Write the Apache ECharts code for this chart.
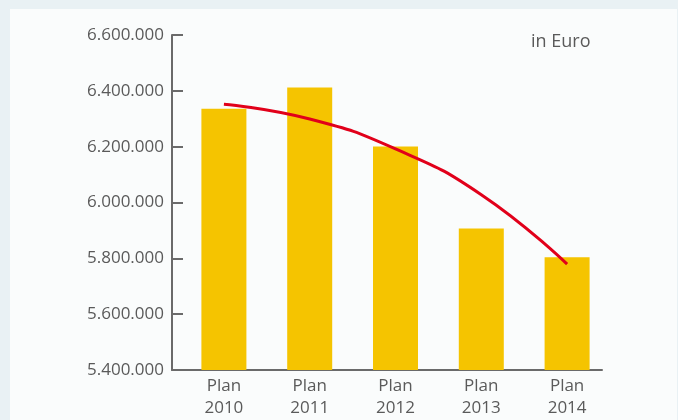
<!DOCTYPE html>
<html>
<head>
<meta charset="utf-8">
<script src="https://cdn.jsdelivr.net/npm/echarts@6/dist/echarts.min.js"></script>
<style>
  html, body { margin: 0; padding: 0; width: 678px; height: 420px; background: #e9f1f4; overflow: hidden; }
  #chart { position: absolute; left: 10px; top: 9px; width: 667px; height: 411px; background: #fafcfc; }
</style>
</head>
<body>
<div id="chart"></div>
<script>
// Planned budget per year, in Euro
const categories = ['Plan\n2010', 'Plan\n2011', 'Plan\n2012', 'Plan\n2013', 'Plan\n2014'];
const planValues = [6336000, 6412000, 6201000, 5907000, 5804000];
// Trend curve through the plan years
const trendValues = [6352000, 6299000, 6192000, 6028000, 5779000];
const yTicks = { min: 5400000, max: 6600000, step: 200000 };

const textColor = '#5a5a5a';
const axisColor = '#6a6a6a';
const fontFamily = '"Open Sans", "Noto Sans", sans-serif';

function formatThousands(v) {
  return String(v).replace(/\B(?=(\d{3})+(?!\d))/g, '.');
}

const chart = echarts.init(document.getElementById('chart'), null, { renderer: 'canvas' });
chart.setOption({
  animation: false,
  backgroundColor: '#fafcfc',
  // grid 0 carries the visible axis frame, grid 1 the bars and trend curve
  grid: [
    { left: 162, top: 26, width: 430, height: 335 },
    { left: 171, top: 26, width: 429, height: 335 }
  ],
  xAxis: [{
    gridIndex: 0,
    type: 'category',
    data: categories,
    axisLine: { show: true, lineStyle: { color: axisColor, width: 2 } },
    axisTick: { show: false },
    axisLabel: { show: false }
  }, {
    gridIndex: 1,
    type: 'category',
    data: categories,
    axisLine: { show: false },
    axisTick: { show: false },
    axisLabel: {
      color: textColor, fontFamily: fontFamily, fontSize: 17,
      lineHeight: 22, margin: 5, interval: 0
    }
  }],
  yAxis: [{
    gridIndex: 0,
    type: 'value',
    min: yTicks.min, max: yTicks.max, interval: yTicks.step,
    splitLine: { show: false },
    axisLine: { show: true, lineStyle: { color: axisColor, width: 2 } },
    axisTick: { show: true, inside: true, length: 11, lineStyle: { color: axisColor, width: 2 } },
    axisLabel: {
      color: textColor, fontFamily: fontFamily, fontSize: 17, margin: 8,
      formatter: formatThousands
    }
  }, {
    gridIndex: 1,
    type: 'value',
    min: yTicks.min, max: yTicks.max, interval: yTicks.step,
    show: false
  }],
  graphic: [{
    type: 'text',
    left: 521, top: 24,
    style: { text: 'in Euro', fill: textColor, font: '18px ' + fontFamily }
  }],
  series: [{
    type: 'bar',
    xAxisIndex: 1, yAxisIndex: 1,
    data: planValues,
    barWidth: 45,
    itemStyle: { color: '#f5c400' }
  }, {
    type: 'line',
    xAxisIndex: 1, yAxisIndex: 1,
    data: trendValues,
    smooth: 0.5,
    showSymbol: false,
    lineStyle: { color: '#e1001a', width: 3 },
    z: 3
  }]
});
</script>
</body>
</html>
